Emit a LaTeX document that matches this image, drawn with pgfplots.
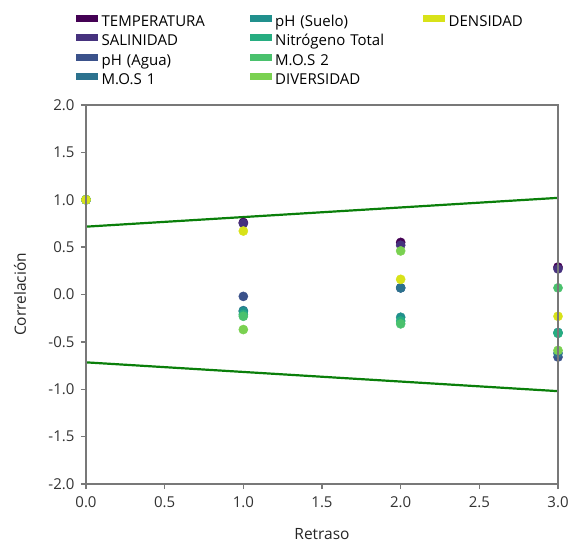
\documentclass[border=0pt]{standalone}
\usepackage{pgfplots}
\pgfplotsset{compat=1.18}
\usepackage{fontspec}
\setmainfont{Open Sans}
\definecolor{c1}{HTML}{440154}
\definecolor{c2}{HTML}{46327E}
\definecolor{c3}{HTML}{3B528B}
\definecolor{c4}{HTML}{2C728E}
\definecolor{c5}{HTML}{21908D}
\definecolor{c6}{HTML}{27AD81}
\definecolor{c7}{HTML}{4AC16D}
\definecolor{c8}{HTML}{7AD151}
\definecolor{c9}{HTML}{D8E219}
\definecolor{cigreen}{HTML}{0A7F0A}
\definecolor{axgray}{HTML}{787878}
\begin{document}
\begin{tikzpicture}
\begin{axis}[
  at={(0,0)}, anchor=south west,
  scale only axis, width=472pt, height=379pt,
  xmin=0, xmax=3, ymin=-2, ymax=2,
  xtick={0,0.5,1,1.5,2,2.5,3},
  ytick={-2,-1.5,-1,-0.5,0,0.5,1,1.5,2},
  xticklabel={\pgfmathprintnumber[fixed,fixed zerofill,precision=1]{\tick}},
  yticklabel={\pgfmathprintnumber[fixed,fixed zerofill,precision=1]{\tick}},
  /pgf/number format/assume math mode=true,
  tick label style={font=\fontsize{15}{18}\selectfont, text=black!80},
  yticklabel style={xshift=-3pt},
  xticklabel style={yshift=-4pt},
  axis line style={draw=axgray, line width=2.2pt},
  tick style={draw=axgray, line width=1.5pt},
  tick align=outside, major tick length=5pt,
  tick pos=left,
  after end axis/.code={\draw[draw=axgray, line width=2.2pt] (rel axis cs:0,0) rectangle (rel axis cs:1,1);},
  xlabel={Retraso}, ylabel={Correlación},
  label style={font=\fontsize{15.5}{18}\selectfont, text=black!85},
  x label style={at={(axis description cs:0.5,-0.132)}, anchor=center},
  y label style={at={(axis description cs:-0.1398,0.5)}, anchor=center},
  clip mode=individual,
  legend columns=3,
  legend style={at={(axis description cs:0,1)}, anchor=south west,
    xshift=-10pt, yshift=17.5pt, draw=none, fill=none, inner sep=0pt,
    font=\fontsize{15}{18}\selectfont, row sep=4.8pt, column sep=0pt,
    nodes={inner sep=0pt, text width=148pt, align=left, text height=10pt, text depth=3pt},
    /tikz/every odd column/.style={column sep=3.5pt}},
  legend cell align=left,
  legend image code/.code={\fill[draw=none] (0pt,1pt) rectangle (22pt,8pt);},
  every axis plot/.append style={only marks, mark=*, mark size=4.6pt},
]
% confidence limits
\addplot[forget plot, no marks, draw=cigreen, line width=2.2pt, sharp plot] coordinates {(0,0.716) (3,1.02)};
\addplot[forget plot, no marks, draw=cigreen, line width=2.2pt, sharp plot] coordinates {(0,-0.716) (3,-1.02)};
% TEMPERATURA
\addplot[forget plot, color=c1, mark options={fill=c1, draw=c1}] coordinates {(0,1) (1,0.76) (2,0.55) (3,0.29)};
% SALINIDAD
\addplot[forget plot, color=c2, mark options={fill=c2, draw=c2}] coordinates {(0,1) (1,0.75) (2,0.52) (3,0.27)};
% pH (Agua)
\addplot[forget plot, color=c3, mark options={fill=c3, draw=c3}] coordinates {(0,1) (1,-0.02) (2,0.07) (3,-0.66)};
% M.O.S 1
\addplot[forget plot, color=c4, mark options={fill=c4, draw=c4}] coordinates {(0,1) (1,-0.17) (2,0.07) (3,-0.62)};
% pH (Suelo)
\addplot[forget plot, color=c5, mark options={fill=c5, draw=c5}] coordinates {(0,1) (1,-0.18) (2,-0.24) (3,-0.40)};
% Nitrogeno Total
\addplot[forget plot, color=c6, mark options={fill=c6, draw=c6}] coordinates {(0,1) (1,-0.21) (2,-0.28) (3,-0.41)};
% M.O.S 2
\addplot[forget plot, color=c7, mark options={fill=c7, draw=c7}] coordinates {(0,1) (1,-0.23) (2,-0.31) (3,0.07)};
% DIVERSIDAD
\addplot[forget plot, color=c8, mark options={fill=c8, draw=c8}] coordinates {(0,1) (1,-0.37) (2,0.46) (3,-0.59)};
% DENSIDAD
\addplot[forget plot, color=c9, mark options={fill=c9, draw=c9}] coordinates {(0,1) (1,0.67) (2,0.16) (3,-0.23)};
% legend, row by row
\addlegendimage{color=c1, fill=c1}\addlegendentry{TEMPERATURA}
\addlegendimage{color=c5, fill=c5}\addlegendentry{pH (Suelo)}
\addlegendimage{color=c9, fill=c9}\addlegendentry{DENSIDAD}
\addlegendimage{color=c2, fill=c2}\addlegendentry{SALINIDAD}
\addlegendimage{color=c6, fill=c6}\addlegendentry{Nitrógeno Total}
\addlegendimage{empty legend}\addlegendentry{}
\addlegendimage{color=c3, fill=c3}\addlegendentry{pH (Agua)}
\addlegendimage{color=c7, fill=c7}\addlegendentry{M.O.S 2}
\addlegendimage{empty legend}\addlegendentry{}
\addlegendimage{color=c4, fill=c4}\addlegendentry{M.O.S 1}
\addlegendimage{color=c8, fill=c8}\addlegendentry{DIVERSIDAD}
\addlegendimage{empty legend}\addlegendentry{}
\end{axis}
\pgfresetboundingbox
\path[use as bounding box] (-86pt,-60pt) rectangle (483pt,484pt);
\end{tikzpicture}
\end{document}
